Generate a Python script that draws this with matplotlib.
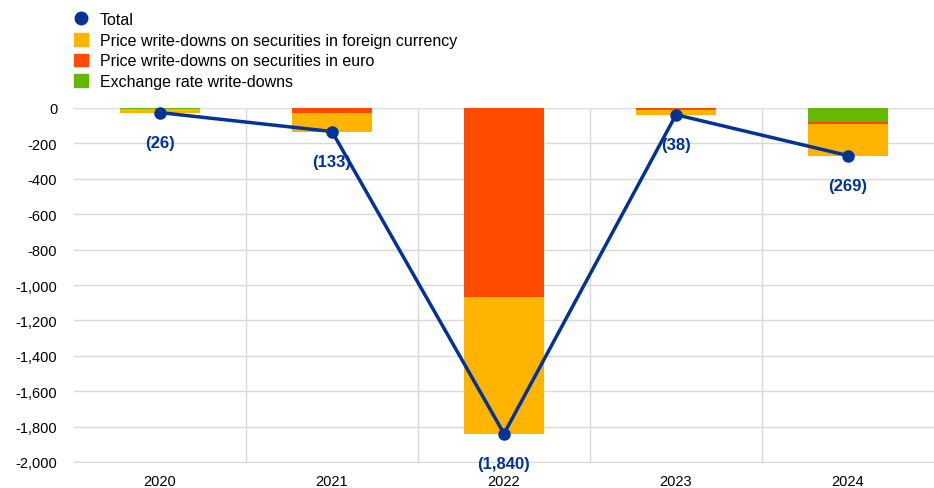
import matplotlib
matplotlib.use("Agg")
import matplotlib.pyplot as plt
import numpy as np
from matplotlib.lines import Line2D
from matplotlib.patches import Patch

plt.rcParams['font.family'] = ['Liberation Sans', 'DejaVu Sans']

years = ["2020", "2021", "2022", "2023", "2024"]
foreign = [-20, -103, -775, -28, -178]
euro = [0, -30, -1065, -8, -10]
exchange = [-6, 0, 0, -2, -81]
total = [-26, -133, -1840, -38, -269]
total_labels = ["(26)", "(133)", "(1,840)", "(38)", "(269)"]

c_total = "#003299"
c_foreign = "#FFB400"
c_euro = "#FF4B00"
c_exch = "#65B800"

fig = plt.figure(figsize=(9.34, 4.89), dpi=100)
ax = fig.add_axes([74/934, 1 - 463/489, (934 - 74)/934, (463 - 109)/489])

x = np.arange(len(years))
w = 0.46
ex = np.array(exchange, dtype=float)
eu = np.array(euro, dtype=float)
fo = np.array(foreign, dtype=float)
ax.bar(x, ex, w, color=c_exch, zorder=2)
ax.bar(x, eu, w, bottom=ex, color=c_euro, zorder=2)
ax.bar(x, fo, w, bottom=ex + eu, color=c_foreign, zorder=2)
ax.plot(x, total, color=c_total, lw=2.5, marker='o', ms=8, zorder=3)
for xi, t, lab in zip(x, total, total_labels):
    ax.annotate(lab, (xi, t), xytext=(0, -21.5), textcoords='offset points',
                ha='center', va='center', fontsize=12, fontweight='bold',
                color=c_total, zorder=4)

ax.set_xlim(-0.5, len(years) - 0.5)
ax.set_ylim(-2000, 0)
ax.set_yticks(np.arange(-2000, 1, 200))
ax.set_yticklabels([f"{v:,}" if v != 0 else "0" for v in np.arange(-2000, 1, 200)])
ax.set_xticks(x)
ax.set_xticklabels(years)
ax.set_xticks(np.arange(0.5, len(years) - 0.5, 1), minor=True)
ax.grid(axis='y', color='#d9d9d9', lw=1, zorder=0)
ax.grid(axis='x', which='minor', color='#d9d9d9', lw=1, zorder=0)
ax.tick_params(axis='both', which='both', length=0, labelsize=10.5, colors='#000000')
ax.tick_params(axis='y', pad=12)
ax.tick_params(axis='x', pad=9)
for s in ax.spines.values():
    s.set_visible(False)
ax.spines['bottom'].set_visible(True)
ax.spines['bottom'].set_color('#d9d9d9')
for a in ax.lines + ax.patches:
    a.set_clip_on(False)

handles = [
    Line2D([], [], marker='o', color='none', markerfacecolor=c_total, markeredgecolor=c_total, markersize=9),
    Patch(color=c_foreign),
    Patch(color=c_euro),
    Patch(color=c_exch),
]
labels = ["Total", "Price write-downs on securities in foreign currency",
          "Price write-downs on securities in euro", "Exchange rate write-downs"]
fig.legend(handles, labels, loc='upper left', bbox_to_anchor=(66/934, 1 - 5/489),
           frameon=False, fontsize=11.5, handlelength=0.85, handleheight=0.85,
           handletextpad=0.75, labelspacing=0.36, borderpad=0)

fig.savefig("out.png", dpi=100)
